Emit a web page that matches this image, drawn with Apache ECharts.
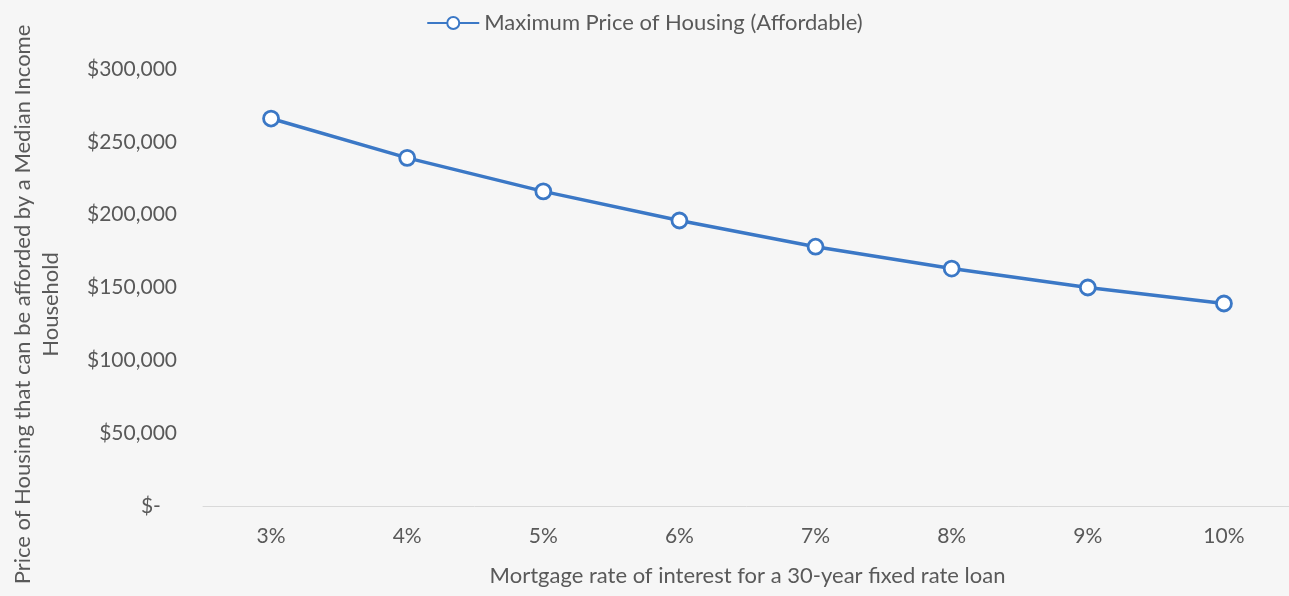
<!DOCTYPE html>
<html>
<head>
<meta charset="utf-8">
<script src="https://cdn.jsdelivr.net/npm/echarts@6/dist/echarts.min.js"></script>
<style>
  html, body { margin: 0; padding: 0; background: #f6f6f6; }
  #chart { width: 1289px; height: 596px; }
</style>
</head>
<body>
<div id="chart"></div>
<script>
// mortgage rates (x) and the price a median income household can afford (y)
var rates = ['3%', '4%', '5%', '6%', '7%', '8%', '9%', '10%'];
var maxPrice = [266000, 239000, 216000, 196000, 178000, 163000, 150000, 139000];
var seriesName = 'Maximum Price of Housing (Affordable)';

var txt = '#595959';
var blue = '#3b78c6';
var font = 'Lato, "Open Sans", sans-serif';

function money(v) {
    if (v === 0) return '$-   ';
    return '$' + v.toString().replace(/\B(?=(\d{3})+(?!\d))/g, ',');
}

var chart = echarts.init(document.getElementById('chart'));
chart.setOption({
    backgroundColor: '#f6f6f6',
    animation: false,
    textStyle: { fontFamily: font },
    legend: {
        top: 7,
        left: 'center',
        itemWidth: 52,
        itemHeight: 15,
        itemGap: 4,
        textStyle: { color: txt, fontSize: 22, fontFamily: font },
        data: [seriesName]
    },
    grid: {
        left: 203,
        top: 69,
        width: 1089,
        bottom: 90,
        containLabel: false,
        outerBoundsMode: 'none'
    },
    xAxis: {
        type: 'category',
        data: rates,
        boundaryGap: true,
        axisLine: { lineStyle: { color: '#d9d9d9', width: 1 } },
        axisTick: { show: false },
        axisLabel: { color: txt, fontSize: 21, margin: 20, fontFamily: font },
        name: 'Mortgage rate of interest for a 30-year fixed rate loan',
        nameLocation: 'middle',
        nameGap: 59,
        nameTextStyle: { color: txt, fontSize: 22, fontFamily: font }
    },
    yAxis: {
        type: 'value',
        min: 0,
        max: 300000,
        interval: 50000,
        axisLine: { show: false },
        axisTick: { show: false },
        splitLine: { show: false },
        axisLabel: { color: txt, fontSize: 21, margin: 26, formatter: money, fontFamily: font },
        name: 'Price of Housing that can be afforded by a Median Income\nHousehold',
        nameLocation: 'middle',
        nameRotate: 90,
        nameGap: 138,
        nameTextStyle: { color: txt, fontSize: 22, lineHeight: 28, fontFamily: font, padding: [0, 34, 0, 0] }
    },
    series: [{
        name: seriesName,
        type: 'line',
        data: maxPrice,
        symbol: 'circle',
        symbolSize: 15,
        lineStyle: { color: blue, width: 3.5 },
        itemStyle: { color: '#ffffff', borderColor: blue, borderWidth: 2.8 }
    }]
});
</script>
</body>
</html>
